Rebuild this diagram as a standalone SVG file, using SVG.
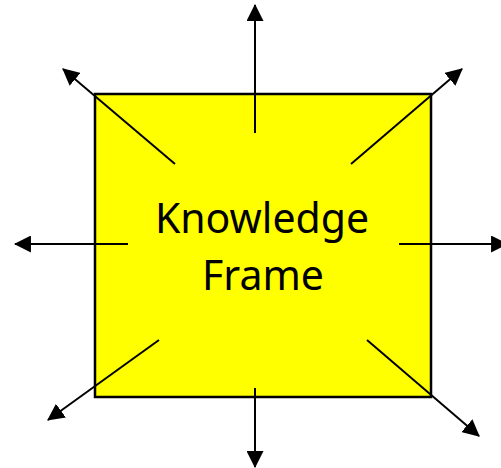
<svg xmlns="http://www.w3.org/2000/svg" width="501" height="468" viewBox="0 0 501 468">
<style>
.box{fill:#ffff00;stroke:#000;stroke-width:2.5}
.lbl{font-family:"Noto Sans","Open Sans",sans-serif;font-size:41px;fill:#000;text-anchor:middle}
.arr{stroke:#000;stroke-width:2;fill:none;marker-end:url(#ah)}
</style>
<defs>
<marker id="ah" markerUnits="userSpaceOnUse" markerWidth="17" markerHeight="17" viewBox="0 0 16 16" refX="15" refY="8" orient="auto">
<path d="M0,0 L16,8 L0,16 Z" fill="#000"/>
</marker>
</defs>
<g id="frame">
<rect class="box" x="95" y="94" width="336" height="303"/>
<text class="lbl" x="262" y="233">Knowledge</text>
<text class="lbl" x="263" y="290">Frame</text>
</g>
<g id="connectors">
<line class="arr" x1="255" y1="133" x2="255" y2="5"/>
<line class="arr" x1="255" y1="388" x2="255" y2="467"/>
<line class="arr" x1="128" y1="244" x2="15" y2="244"/>
<line class="arr" x1="399" y1="244" x2="507" y2="244"/>
<line class="arr" x1="175" y1="164" x2="63" y2="69"/>
<line class="arr" x1="351" y1="164" x2="462" y2="69"/>
<line class="arr" x1="159" y1="340" x2="48" y2="420"/>
<line class="arr" x1="367" y1="340" x2="479" y2="436"/>
</g>
</svg>
